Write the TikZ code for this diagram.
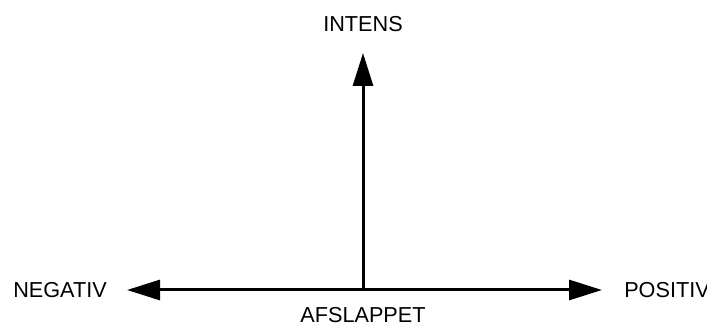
\documentclass[tikz,border=0pt]{standalone}
\usepackage{fontspec}
\setmainfont{Liberation Sans}
\usetikzlibrary{arrows.meta, positioning}

\begin{document}
\begin{tikzpicture}[
        font=\fontsize{15.4}{18}\selectfont, node distance=0.5cm,
        >={Triangle[length=8.25mm, width=5mm]},
        lbl/.style={inner sep=0pt},
        axis/.style={line width=0.075cm}
    ]
        \useasboundingbox (0,0) rectangle (17.675,8.15);

        \coordinate (o)  at (9.075,0.9);
        \coordinate (up) at (9.075,6.825);
        \coordinate (lt) at (3.175,0.9);
        \coordinate (rt) at (15.05,0.9);

        \node[lbl, above=0.525cm of up] (intens)    {INTENS};
        \node[lbl, left=0.5cm of lt]    (negativ)   {NEGATIV};
        \node[lbl, right=0.55cm of rt]  (positiv)   {POSITIV};
        \node[lbl, below=0.42cm of o]   (afslappet) {AFSLAPPET};

        \draw[axis, <->] (lt) -- (rt);
        \draw[axis, ->]  (o)  -- (up);
    \end{tikzpicture}
\end{document}
